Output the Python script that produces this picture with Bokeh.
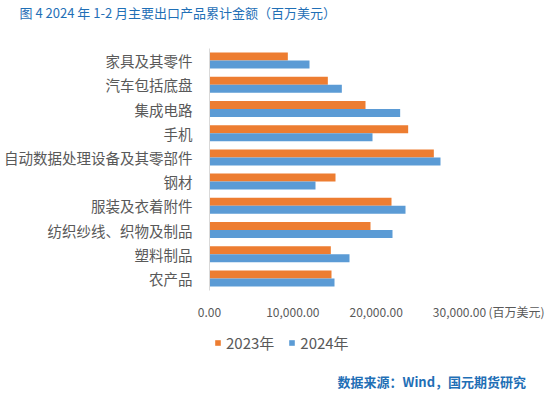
from bokeh.plotting import figure
from bokeh.layouts import column
from bokeh.models import (ColumnDataSource, FactorRange, Range1d, FixedTicker,
                          NumeralTickFormatter, Legend, LegendItem, Label, Title)
from bokeh.transform import dodge
from bokeh.embed import file_html
from bokeh.resources import INLINE

# ---- data ----
categories = ["家具及其零件", "汽车包括底盘", "集成电路", "手机", "自动数据处理设备及其零部件",
              "钢材", "服装及衣着附件", "纺织纱线、织物及制品", "塑料制品", "农产品"]
v2023 = [9400, 14200, 18720, 23840, 26920, 15120, 21840, 19320, 14560, 14640]
v2024 = [12000, 15880, 22880, 19560, 27720, 12720, 23520, 21960, 16800, 15000]
series_names = ["2023年", "2024年"]
x_ticks = [0, 10000, 20000, 30000]
title_text = "图 4 2024 年 1-2 月主要出口产品累计金额（百万美元）"
unit_text = "(百万美元)"
source_text = "数据来源：Wind，国元期货研究"

ORANGE = "#ED7D31"
BLUE = "#5B9BD5"
GRAY = "#595959"
TITLE_BLUE = "#1F6FB6"
FONT = "Noto Sans CJK SC"

W = 558
H_TOP, H_MAIN, H_BOT = 40, 282, 72         # 40 + 282 + 72 = 394
FL = 209                                   # frame left (all strips share it)
FT, FB = 48 - H_TOP, 294 - H_TOP           # frame top / bottom inside main chart
PX_PER_UNIT = 83.33 / 10000
UNIT_TICK = 36840                          # where the unit text sits on the value axis
XMAX = 38640
FR = FL + int(round(XMAX * PX_PER_UNIT))   # frame right
MB_RIGHT = W - FR


def strip(h, xr, yr):
    f = figure(width=W, height=h, output_backend="svg", toolbar_location=None,
               x_range=xr, y_range=yr, x_axis_type=None, y_axis_type=None,
               min_border_left=FL, min_border_right=MB_RIGHT,
               min_border_top=0, min_border_bottom=0)
    f.outline_line_color = None
    f.xgrid.visible = False
    f.ygrid.visible = False
    f.background_fill_color = "white"
    f.border_fill_color = "white"
    return f


# ---- title strip ----
p0 = strip(H_TOP, Range1d(FL, FR), Range1d(0, 1))
p0.add_layout(Title(text=title_text, align="left", offset=19 - FL, standoff=3,
                    vertical_align="middle", text_font=FONT,
                    text_font_style="normal", text_font_size="13px",
                    text_color=TITLE_BLUE), "above")

# ---- main chart ----
factors = list(reversed(categories))
src = ColumnDataSource(dict(cat=categories, v2023=v2023, v2024=v2024))

p = figure(width=W, height=H_MAIN, output_backend="svg", toolbar_location=None,
           y_range=FactorRange(*factors, range_padding=0, factor_padding=0),
           x_range=Range1d(0, XMAX),
           min_border_left=FL, min_border_top=FT, min_border_bottom=H_MAIN - FB,
           min_border_right=MB_RIGHT)
p.outline_line_color = None
p.background_fill_color = "white"
p.border_fill_color = "white"
p.xgrid.visible = False
p.ygrid.visible = False

r1 = p.hbar(y=dodge("cat", 0.165, range=p.y_range), right="v2023", left=0,
            height=0.33, source=src, color=ORANGE, line_color=None)
r2 = p.hbar(y=dodge("cat", -0.165, range=p.y_range), right="v2024", left=0,
            height=0.33, source=src, color=BLUE, line_color=None)

yax = p.yaxis[0]
yax.axis_line_color = "#D9D9D9"
yax.major_tick_line_color = None
yax.minor_tick_line_color = None
yax.major_label_standoff = 11
yax.major_label_text_font = FONT
yax.major_label_text_font_size = "14.5px"
yax.major_label_text_color = GRAY

xax = p.xaxis[0]
xax.ticker = FixedTicker(ticks=x_ticks + [UNIT_TICK])
xax.formatter = NumeralTickFormatter(format="0,0.00")
xax.major_label_overrides = {UNIT_TICK: unit_text}
xax.axis_line_color = None
xax.major_tick_line_color = None
xax.minor_tick_line_color = None
xax.major_label_standoff = 6
xax.major_label_text_font = FONT
xax.major_label_text_font_size = "12px"
xax.major_label_text_color = GRAY

# ---- legend + source strip ----
p2 = strip(H_BOT, Range1d(FL, FR), Range1d(H_BOT, 0))

# zero-height proxies carrying the series colours for the legend
k1 = p2.hbar(y=0, left=0, right="v2023", height=0, source=src,
             fill_color=ORANGE, line_color=None)
k2 = p2.hbar(y=0, left=0, right="v2024", height=0, source=src,
             fill_color=BLUE, line_color=None)
legend = Legend(items=[LegendItem(label=series_names[0], renderers=[k1]),
                       LegendItem(label=series_names[1], renderers=[k2])],
                orientation="horizontal", location=(214 - FL, 41),
                glyph_width=7, glyph_height=7, label_height=16,
                label_standoff=5, spacing=14, padding=0, margin=0,
                border_line_color=None, background_fill_alpha=0,
                label_text_font=FONT, label_text_font_size="15px",
                label_text_color=GRAY)
p2.add_layout(legend, "center")
p2.add_layout(Label(x=337, y=59, text=source_text, text_align="left",
                    text_baseline="middle", text_font=FONT, text_font_style="bold",
                    text_font_size="13px", text_color=TITLE_BLUE))

open("out.html", "w").write(file_html(column(p0, p, p2, spacing=0), INLINE))
